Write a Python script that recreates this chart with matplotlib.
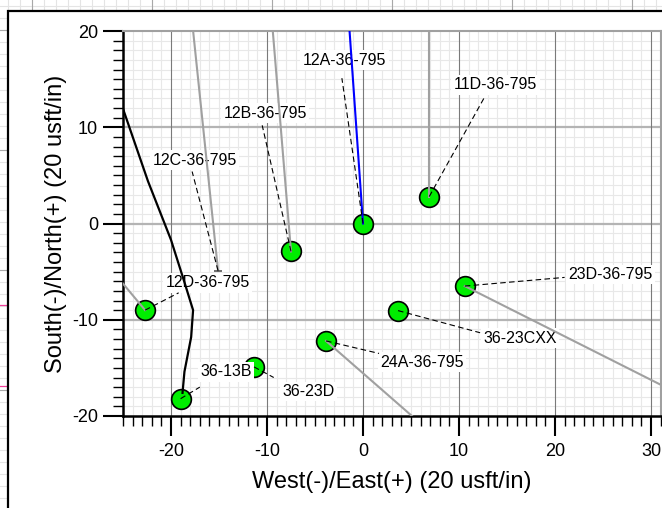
import numpy as np
import matplotlib
matplotlib.use("Agg")
import matplotlib.pyplot as plt
from matplotlib.patches import Rectangle
from matplotlib.ticker import MultipleLocator

plt.rcParams['font.family'] = ['Liberation Sans', 'DejaVu Sans']
plt.rcParams['axes.unicode_minus'] = False

# well surface / end points (usft / 20)
well_names = ['12A-36-795', '11D-36-795', '12B-36-795', '12C-36-795', '12D-36-795',
              '36-13B', '36-23D', '24A-36-795', '36-23CXX', '23D-36-795']
well_east = [0.0, 6.9, -7.5, -15.1, -22.7, -19.0, -11.35, -3.85, 3.65, 10.6]
well_north = [0.0, 2.8, -2.9, -4.9, -9.0, -18.2, -14.9, -12.2, -9.05, -6.5]
well_circle = [True, True, True, False, True, True, True, True, True, True]

# label centres and where the dashed leader meets the label
label_east = [-1.93, 13.8, -10.2, -17.55, -16.15, -14.3, -5.7, 6.15, 16.35, 25.8]
label_north = [16.98, 14.4, 11.46, 6.56, -6.15, -15.4, -17.45, -14.4, -11.9, -5.3]
leader_east = [-2.2, 12.7, -10.5, -17.8, -19.2, -17.0, -9.3, 1.67, 12.2, 21.0]
leader_north = [15.1, 13.2, 10.2, 5.4, -7.2, -17.0, -16.0, -13.5, -11.35, -5.6]

# trajectories
traj_12A_e = [0.0, -1.47]
traj_12A_n = [0.0, 21.0]
traj_11D_e = [6.9, 6.9]
traj_11D_n = [2.8, 21.0]
traj_12B_e = [-7.5, -9.48]
traj_12B_n = [-2.9, 21.0]
traj_12C_e = [-15.1, -17.8]
traj_12C_n = [-4.9, 21.0]
traj_12D_e = [-22.7, -26.0]
traj_12D_n = [-9.0, -5.05]
traj_24A_e = [-3.85, 6.25]
traj_24A_n = [-12.2, -21.0]
traj_23D_e = [10.6, 32.0]
traj_23D_n = [-6.5, -17.25]
traj_13B_e = [-25.2, -22.4, -20.0, -18.6, -17.7, -17.9, -18.6, -18.8]
traj_13B_n = [12.5, 4.4, -1.7, -6.1, -9.0, -11.8, -15.4, -17.6]

W, H = 662, 508
fig = plt.figure(figsize=(W / 100, H / 100), dpi=100)

# page background behind the plot frame
bg = fig.add_axes([0, 0, 1, 1])
bg.set_xlim(0, W)
bg.set_ylim(H, 0)
bg.axis('off')
for v in np.arange(-4, W, 12):
    bg.axvline(v, color='#e4e4e4', lw=0.8, zorder=0)
for h in np.arange(-6, H, 12):
    bg.axhline(h, color='#e4e4e4', lw=0.8, zorder=0)
for v in np.arange(32, W, 120):
    bg.axvline(v, color='#a8a8a8', lw=0.8, zorder=0)
for h in np.arange(30, H, 120):
    bg.axhline(h, color='#a8a8a8', lw=0.8, zorder=0)
for h in [305, 386]:
    bg.plot([0, 8], [h, h], color='#f0409a', lw=0.9, zorder=0.5)
bg.add_patch(Rectangle((8, 11), 800, 800, facecolor='white', edgecolor='black',
                       lw=1.6, zorder=1))

ax = fig.add_axes([123 / W, 92 / H, 537.6 / W, 385 / H])
ax.set_xlim(-25, 31)
ax.set_ylim(-20, 20)

ax.xaxis.set_major_locator(MultipleLocator(10))
ax.yaxis.set_major_locator(MultipleLocator(10))
ax.xaxis.set_minor_locator(MultipleLocator(1))
ax.yaxis.set_minor_locator(MultipleLocator(1))
ax.set_axisbelow(True)
ax.grid(which='minor', color='#e8e8e8', lw=0.8)

# major grid drawn above the minor one
for v in np.arange(-20, 31, 10):
    ax.axvline(v, color='#7a7a7a', lw=0.8, zorder=0.8)
for h in np.arange(-10, 20, 10):
    ax.axhline(h, color='#b4b4b4', lw=1.6, zorder=0.7)

for s in ['left', 'bottom']:
    ax.spines[s].set_color('black')
    ax.spines[s].set_linewidth(1.8)
for s in ['top', 'right']:
    ax.spines[s].set_color('#a0a0a0')
    ax.spines[s].set_linewidth(1.5)

ax.tick_params(which='major', direction='out', length=14.4, width=1.5,
               labelsize=13)
ax.tick_params(which='minor', direction='out', length=7.2, width=1.0)
ax.tick_params(axis='y', which='major', pad=3.5)
ax.tick_params(axis='x', which='major', pad=5)

ax.set_xlabel('West(-)/East(+) (20 usft/in)', fontsize=17)
ax.set_ylabel('South(-)/North(+) (20 usft/in)', fontsize=17)
ax.xaxis.set_label_coords(0.5, -0.143)
ax.yaxis.set_label_coords(-0.104, 0.5)

# well markers
for e, n, c in zip(well_east, well_north, well_circle):
    if c:
        ax.plot(e, n, 'o', ms=14.2, mfc='#00ee00', mec='black', mew=1.2,
                zorder=2)

# labels
for name, le, ln in zip(well_names, label_east, label_north):
    ax.text(le, ln, name, fontsize=11.5, ha='center', va='center', zorder=3,
            bbox=dict(boxstyle='square,pad=0.15', fc='white', ec='none'))

# trajectories
gray = '#a0a0a0'
for te, tn in [(traj_11D_e, traj_11D_n), (traj_12B_e, traj_12B_n),
               (traj_12C_e, traj_12C_n), (traj_12D_e, traj_12D_n),
               (traj_24A_e, traj_24A_n), (traj_23D_e, traj_23D_n)]:
    ax.plot(te, tn, color=gray, lw=1.5, zorder=4)
ax.plot(traj_12A_e, traj_12A_n, color='#0000ff', lw=1.5, zorder=4)
ax.plot(traj_13B_e, traj_13B_n, color='black', lw=1.6, zorder=4)
ax.plot(well_east[3], well_north[3], '_', color='#555555', ms=6, mew=1.2,
        zorder=4)

# dashed leaders
for we, wn, le, ln in zip(well_east, well_north, leader_east, leader_north):
    ax.plot([we, le], [wn, ln], color='black', lw=0.8, dashes=(5, 3),
            zorder=5)

fig.savefig('out.png', dpi=100)
